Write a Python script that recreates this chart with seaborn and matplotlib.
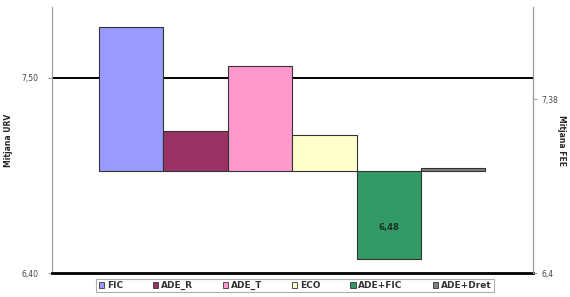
import numpy as np
import pandas as pd
import matplotlib
matplotlib.use('Agg')
import matplotlib.pyplot as plt
import seaborn as sns
from matplotlib.patches import Patch

# data
groups = ['FIC', 'ADE_R', 'ADE_T', 'ECO', 'ADE+FIC', 'ADE+Dret']
values = [7.79, 7.20, 7.57, 7.18, 6.48, 6.99]
colors = ['#9999FF', '#993366', '#FF99CC', '#FFFFCC', '#339966', '#808080']
baseline = 6.975
urv_mean = 7.50
fee_mean = 7.38
left_ticks = [6.40, 7.50]
left_labels = ['6,40', '7,50']
right_ticks = [6.4, 7.38]
right_labels = ['6,4', '7,38']
label_group = 'ADE+FIC'
label_text = '6,48'

df = pd.DataFrame({'group': groups, 'value': values})
df['height'] = df.value - baseline

sns.set_style('white')
plt.rcParams['font.family'] = ['DejaVu Sans']

fig = plt.figure(figsize=(5.7, 2.97), dpi=100)
ax1 = fig.add_axes([0.0912, 0.0808, 0.8438, 0.8956])

# reference line for the URV average, drawn behind the bars
ax1.axhline(urv_mean, color='black', linewidth=1.4, zorder=0)

sns.barplot(data=df, x='group', y='height', hue='group',
            palette=colors, saturation=1, width=1, bottom=baseline,
            edgecolor='#333333', linewidth=0.8,
            legend=False, ax=ax1, zorder=2)

ax1.set_xlim(-1.23, 6.24)
ax1.set_ylim(6.4, 7.9)
ax1.set_xticks([])
ax1.set_xlabel('')
ax1.set_yticks(left_ticks)
ax1.set_yticklabels(left_labels, fontsize=5.5, color='#444444')
ax1.set_ylabel('Mitjana URV', fontsize=5.5, fontweight='bold')
ax1.yaxis.set_label_coords(-0.081, 0.5)
ax1.tick_params(axis='y', length=3, width=0.6, color='#888888', pad=7, left=True)

ax1.spines['top'].set_visible(False)
ax1.spines['left'].set_color('#999999')
ax1.spines['left'].set_linewidth(0.8)
ax1.spines['right'].set_color('#999999')
ax1.spines['right'].set_linewidth(0.8)
ax1.spines['bottom'].set_color('black')
ax1.spines['bottom'].set_linewidth(2)

# value label inside the ADE+FIC bar
idx = groups.index(label_group)
ax1.annotate(label_text, xy=(idx, (values[idx] + baseline) / 2),
             xytext=(0, -9), textcoords='offset points',
             ha='center', va='center', fontsize=6, fontweight='bold',
             color='#1a3322')

ax2 = ax1.twinx()
ax2.set_ylim(6.4, 7.9)
ax2.set_yticks(right_ticks)
ax2.set_yticklabels(right_labels, fontsize=5.5, color='#444444')
ax2.tick_params(axis='y', length=3, width=0.6, color='#888888', pad=3, right=True)
ax2.set_ylabel('Mitjana FEE', fontsize=5.5, fontweight='bold', rotation=-90,
               va='center')
ax2.yaxis.set_label_coords(1.06, 0.5)
for side in ['top', 'left', 'bottom']:
    ax2.spines[side].set_visible(False)
ax2.spines['right'].set_color('#999999')
ax2.spines['right'].set_linewidth(0.8)

handles = [Patch(facecolor=c, edgecolor='#333333', linewidth=0.6, label=g)
           for g, c in zip(groups, colors)]
leg = fig.legend(handles=handles, loc='center', bbox_to_anchor=(0.5175, 0.039),
                 ncol=6, fontsize=6.5, frameon=True, fancybox=False,
                 handlelength=0.6, handleheight=0.6, handletextpad=0.3,
                 columnspacing=3.3, borderpad=0.25, borderaxespad=0)
leg.get_frame().set_edgecolor('#999999')
leg.get_frame().set_linewidth(0.8)
for t in leg.get_texts():
    t.set_fontweight('bold')
    t.set_color('#333333')

fig.savefig('out.png', dpi=100)
